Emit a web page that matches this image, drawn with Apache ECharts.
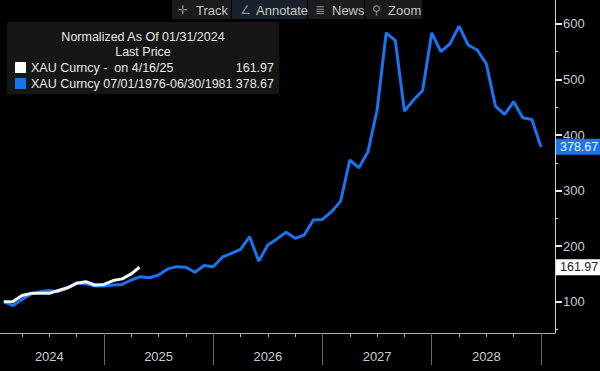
<!DOCTYPE html>
<html>
<head>
<meta charset="utf-8">
<script src="https://cdn.jsdelivr.net/npm/echarts@6/dist/echarts.min.js"></script>
<style>
html,body{margin:0;padding:0;background:#000;}
#c{width:600px;height:371px;}
</style>
</head>
<body>
<div id="c"></div>
<script>
// Month index (0 = 01/31/2024 normalization date)
const blueMonths = [];
for (let i = 0; i < 60; i++) blueMonths.push(i);
const blueValues = [100, 93, 104, 114, 118, 120, 118, 125, 134, 132,
  128, 128, 130, 131, 139, 145, 143, 148, 159, 163,
  162, 153, 165, 163, 180, 187, 194, 217, 173, 202,
  213, 225, 214, 220, 247, 248, 262, 281, 355, 341,
  370, 445, 584, 570, 443, 463, 480, 584, 550, 564,
  596, 562, 553, 528, 452, 437, 460, 431, 428, 378.67];
const whiteMonths = [0, 1, 2, 3, 4, 5, 6, 7, 8, 9, 10, 11, 12, 13, 14, 14.9];
const whiteValues = [100, 100.5, 111, 115, 115, 115, 120, 125, 133, 136, 130, 131, 138, 141, 150, 161.97];

const yearLabels = ['2024', '2025', '2026', '2027', '2028'];
const yearLabelPos = [5, 17, 29, 41, 53];
const yearTickPos = [11, 23, 35, 47, 59];
const quarterTickPos = [2, 5, 8, 14, 17, 20, 26, 29, 32, 38, 41, 44, 50, 53, 56];
const yTickValues = [100, 200, 300, 400, 500, 600];
const yMinorValues = [50, 150, 250, 350, 450, 550];

const whiteName = 'XAU Curncy -  on 4/16/25';
const blueName = 'XAU Curncy 07/01/1976-06/30/1981';
const whiteLast = whiteValues[whiteValues.length - 1];
const blueLast = blueValues[blueValues.length - 1];

const BLUE = '#1a74f0';
const xMin = -0.42, xMax = 60.54, yMin = 43.6, yMax = 643;

const chart = echarts.init(document.getElementById('c'), null, {renderer: 'svg'});
const font = 'Liberation Sans, Arial, sans-serif';

function toolbarButton(x, w, icon, iconX, label, labelX, fill) {
  return [
    {type: 'rect', shape: {x: x, y: 0, width: w, height: 19}, style: {fill: fill}, z: 10},
    {type: 'text', x: iconX, y: 10, style: {text: icon, fill: '#8a8a8a', font: '12px DejaVu Sans', verticalAlign: 'middle'}, z: 11},
    {type: 'text', x: labelX, y: 10, style: {text: label, fill: '#c4c4c4', font: '13px ' + font, verticalAlign: 'middle'}, z: 11}
  ];
}

const gridBox = {left: 0, right: 45, top: 0, bottom: 38, containLabel: false};

const option = {
  backgroundColor: '#000',
  animation: false,
  grid: [Object.assign({}, gridBox), Object.assign({}, gridBox)],
  xAxis: [{
    gridIndex: 0, type: 'value', min: xMin, max: xMax, position: 'bottom',
    axisLine: {show: true, onZero: false, lineStyle: {color: '#b0b0b0', width: 1}},
    axisTick: {show: true, customValues: yearTickPos, length: 32, lineStyle: {color: '#6a6a6a', width: 1}},
    axisLabel: {show: true, customValues: yearLabelPos, color: '#c8ccd4', fontSize: 13, fontFamily: font, margin: 17,
      formatter: function (v) { const k = yearLabelPos.indexOf(v); return k >= 0 ? yearLabels[k] : ''; }},
    splitLine: {show: false}
  }, {
    gridIndex: 1, type: 'value', min: xMin, max: xMax, position: 'bottom',
    axisLine: {show: false, onZero: false},
    axisTick: {show: true, customValues: quarterTickPos, length: 4, lineStyle: {color: '#b0b0b0', width: 1}},
    axisLabel: {show: false},
    splitLine: {show: false}
  }],
  yAxis: [{
    gridIndex: 0, type: 'value', min: yMin, max: yMax, position: 'right',
    axisLine: {show: true, onZero: false, lineStyle: {color: '#d0d0d0', width: 1}},
    axisTick: {show: true, customValues: yTickValues, length: 7, lineStyle: {color: '#e8e8e8', width: 2}},
    axisLabel: {show: true, customValues: yTickValues, color: '#c8ccd4', fontSize: 13, fontFamily: font, margin: 8},
    splitLine: {show: false}
  }, {
    gridIndex: 1, type: 'value', min: yMin, max: yMax, position: 'right',
    axisLine: {show: false, onZero: false},
    axisTick: {show: true, customValues: yMinorValues, length: 3, lineStyle: {color: '#d0d0d0', width: 1}},
    axisLabel: {show: false},
    splitLine: {show: false}
  }],
  legend: {
    orient: 'vertical', left: 10, top: 56, itemGap: 3, itemWidth: 11, itemHeight: 11,
    icon: 'rect', selectedMode: false,
    data: [whiteName, blueName],
    textStyle: {
      color: '#e6e6e6', fontSize: 12.5, fontFamily: font,
      rich: {
        n: {width: 205, color: '#e6e6e6', fontSize: 12.5, fontFamily: font},
        v: {width: 38, align: 'right', color: '#e6e6e6', fontSize: 12.5, fontFamily: font}
      }
    },
    formatter: function (name) {
      const v = name === whiteName ? whiteLast : blueLast;
      return '{n|' + name + '}{v|' + v.toFixed(2) + '}';
    }
  },
  graphic: [
    {type: 'rect', shape: {x: 7, y: 22, width: 272, height: 72}, style: {fill: '#161616'}, z: 0},
    {type: 'text', x: 143, y: 37, style: {text: 'Normalized As Of 01/31/2024', fill: '#e6e6e6', font: '12.5px ' + font, align: 'center', verticalAlign: 'middle'}, z: 5},
    {type: 'text', x: 143, y: 52, style: {text: 'Last Price', fill: '#e6e6e6', font: '12.5px ' + font, align: 'center', verticalAlign: 'middle'}, z: 5}
  ].concat(
    toolbarButton(172, 59, '\u271B', 178, 'Track', 196, '#1c1c1c'),
    toolbarButton(232, 75, '\u2220', 240, 'Annotate', 256, '#18212c'),
    toolbarButton(308, 56, '\u2263', 315, 'News', 332, '#1c1c1c'),
    toolbarButton(365, 57, '\u26B2', 372, 'Zoom', 388, '#1c1c1c')
  ),
  series: [{
    name: blueName, type: 'line', xAxisIndex: 0, yAxisIndex: 0,
    data: blueMonths.map((m, i) => [m, blueValues[i]]),
    showSymbol: false, symbol: 'none',
    lineStyle: {color: BLUE, width: 3}, itemStyle: {color: BLUE},
    z: 2,
    markLine: {
      silent: true, symbol: ['none', 'none'],
      lineStyle: {color: 'rgba(0,0,0,0)', width: 0},
      data: [{yAxis: blueLast}],
      label: {show: true, position: 'end', distance: 1, formatter: blueLast.toFixed(2),
        backgroundColor: BLUE, color: '#eef4ff', padding: [2, 2, 1, 4], fontSize: 12.5, fontFamily: font}
    }
  }, {
    name: whiteName, type: 'line', xAxisIndex: 0, yAxisIndex: 0,
    data: whiteMonths.map((m, i) => [m, whiteValues[i]]),
    showSymbol: false, symbol: 'none',
    lineStyle: {color: '#f4f4f4', width: 3}, itemStyle: {color: '#ffffff'},
    z: 3,
    markLine: {
      silent: true, symbol: ['none', 'none'],
      lineStyle: {color: 'rgba(0,0,0,0)', width: 0},
      data: [{yAxis: whiteLast}],
      label: {show: true, position: 'end', distance: 1, formatter: whiteLast.toFixed(2),
        backgroundColor: '#ffffff', color: '#222222', padding: [2, 2, 1, 4], fontSize: 12.5, fontFamily: font}
    }
  }]
};
chart.setOption(option);
</script>
</body>
</html>
